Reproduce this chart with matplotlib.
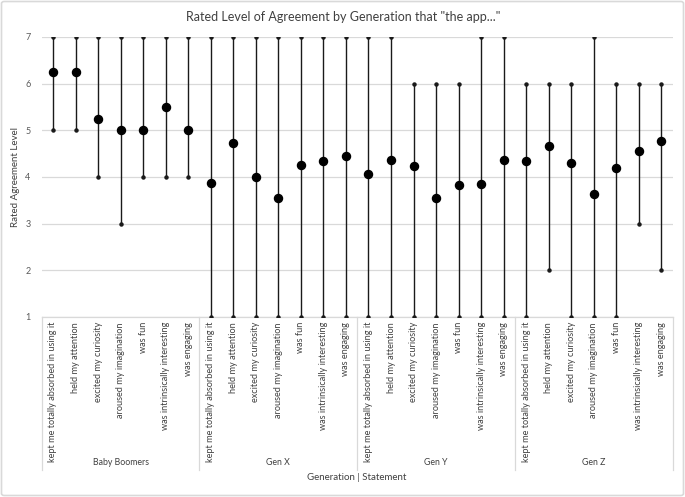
import numpy as np
import matplotlib
matplotlib.use("Agg")
import matplotlib.pyplot as plt
from matplotlib.patches import FancyBboxPatch

plt.rcParams["font.family"] = ["Lato", "DejaVu Sans"]

# ── Data ──────────────────────────────────────────────────
generations = ["Baby Boomers", "Gen X", "Gen Y", "Gen Z"]
statements = ["kept me totally absorbed in using it", "held my attention",
              "excited my curiosity", "aroused my imagination", "was fun",
              "was intrinsically interesting", "was engaging"]

mean_bb = [6.25, 6.25, 5.25, 5.0, 5.0, 5.5, 5.0]
low_bb = [5, 5, 4, 3, 4, 4, 4]
high_bb = [7, 7, 7, 7, 7, 7, 7]

mean_gx = [3.88, 4.72, 4.0, 3.56, 4.25, 4.35, 4.46]
low_gx = [1, 1, 1, 1, 1, 1, 1]
high_gx = [7, 7, 7, 7, 7, 7, 7]

mean_gy = [4.07, 4.36, 4.24, 3.56, 3.82, 3.86, 4.36]
low_gy = [1, 1, 1, 1, 1, 1, 1]
high_gy = [7, 7, 6, 6, 6, 7, 7]

mean_gz = [4.35, 4.67, 4.30, 3.63, 4.19, 4.55, 4.78]
low_gz = [1, 2, 1, 1, 1, 3, 2]
high_gz = [6, 6, 6, 7, 6, 6, 6]

means = mean_bb + mean_gx + mean_gy + mean_gz
lows = low_bb + low_gx + low_gy + low_gz
highs = high_bb + high_gx + high_gy + high_gz

W, H = 685, 497
fig = plt.figure(figsize=(W / 100, H / 100), dpi=100)
ax = fig.add_axes([41.7 / W, 1 - 317 / H, 631 / W, 280 / H])

x = np.arange(len(means))
LINE = "#1a1a1a"
GRID = "#d9d9d9"

ax.vlines(x, lows, highs, color=LINE, lw=1.0, zorder=3)
ax.plot(x, highs, "o", color=LINE, ms=2.2, zorder=4, linestyle="none")
ax.plot(x, lows, "o", color=LINE, ms=2.2, zorder=4, linestyle="none")
ax.plot(x, means, "o", color="black", ms=5.8, zorder=5, linestyle="none")

ax.set_xlim(-0.5, len(means) - 0.5)
ax.set_ylim(1, 7)
ax.set_yticks(range(1, 8))
ax.tick_params(axis="y", length=0, pad=8, labelsize=6.5, labelcolor="#595959")
ax.set_xticks([])
ax.grid(axis="y", color=GRID, lw=0.9)
ax.set_axisbelow(True)
for s in ["left", "right", "top"]:
    ax.spines[s].set_visible(False)
ax.spines["bottom"].set_color(GRID)
ax.spines["bottom"].set_linewidth(0.9)

ax.set_ylabel("Rated Agreement Level", fontsize=7, color="#404040", labelpad=4)

# category labels
trans = ax.get_xaxis_transform()
n = len(statements)
for i in x:
    ax.text(i, -0.018, statements[i % n], rotation=90, ha="center", va="top",
            fontsize=6.6, color="#404040", transform=trans)

# group separators and labels
for g in range(len(generations) + 1):
    ax.plot([g * n - 0.5] * 2, [0, -0.546], color=GRID, lw=0.9,
            transform=trans, clip_on=False)
for g, name in enumerate(generations):
    ax.text(g * n + (n - 1) / 2, -0.521, name, ha="center", va="center",
            fontsize=6.3, color="#404040", transform=trans)

fig.text(357 / W, 1 - 478 / H, "Generation | Statement", ha="center",
         va="center", fontsize=7, color="#404040")
fig.text(343 / W, 1 - 17 / H, 'Rated Level of Agreement by Generation that "the app..."',
         ha="center", va="center", fontsize=9, color="#404040")

# chart area border
fig.patches.append(FancyBboxPatch((1.5 / W, 1.5 / H), 1 - 3 / W, 1 - 3 / H,
                                  boxstyle="round,pad=0,rounding_size=0.004",
                                  transform=fig.transFigure, facecolor="none",
                                  edgecolor=GRID, lw=1.2))

fig.savefig("out.png", dpi=100, facecolor="white")
